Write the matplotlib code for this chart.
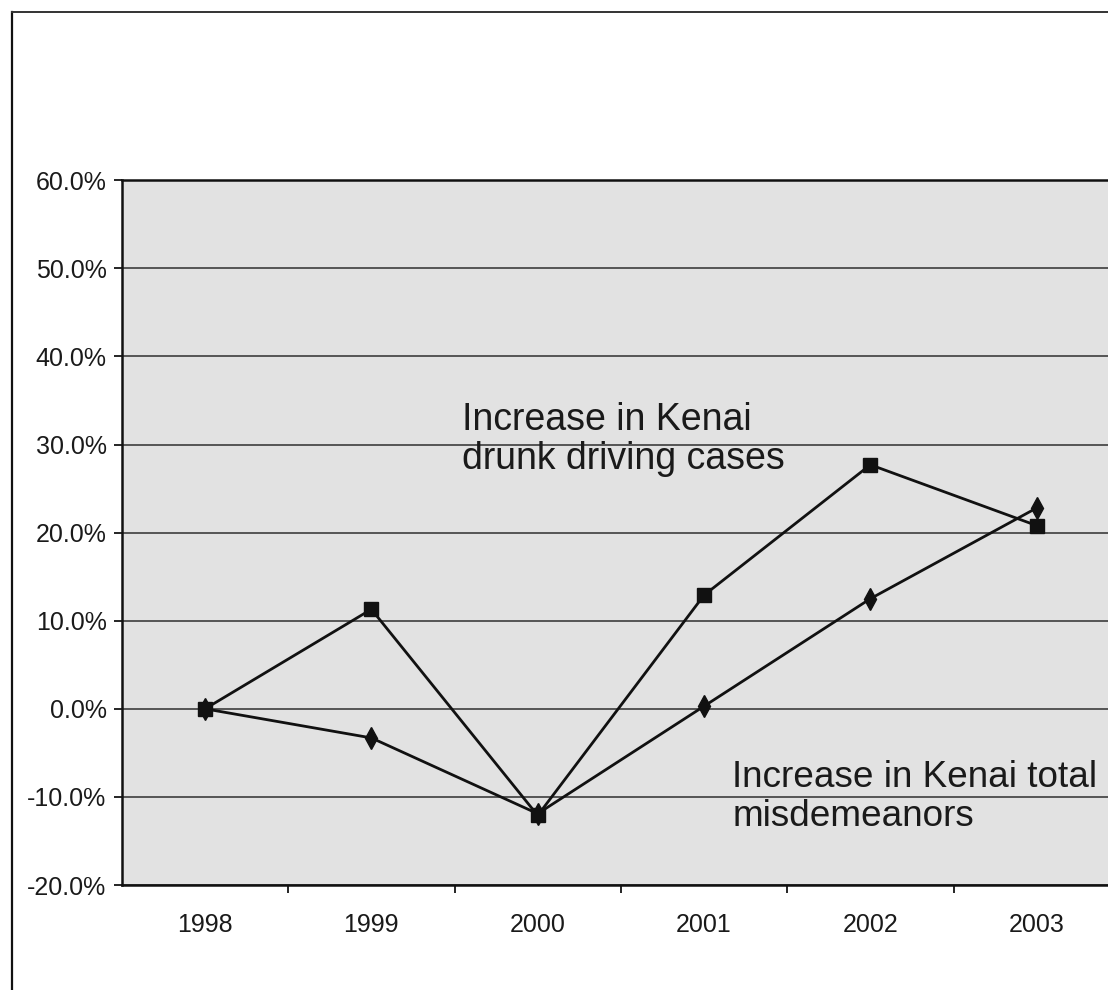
import matplotlib
matplotlib.use("Agg")
import matplotlib.pyplot as plt
from matplotlib.lines import Line2D
from matplotlib.ticker import FuncFormatter, MultipleLocator

years = ["1998", "1999", "2000", "2001", "2002", "2003"]
dui_cases = [0.0, 11.3, -12.1, 12.9, 27.7, 20.8]
misdemeanors = [0.0, -3.3, -11.9, 0.3, 12.5, 22.8]

plt.rcParams["font.family"] = ["Liberation Sans", "DejaVu Sans"]

fig = plt.figure(figsize=(11.08, 9.9), dpi=100)
ax = fig.add_axes([0.110, 0.106, 0.9007, 0.712])
ax.set_facecolor("#e2e2e2")

x = list(range(len(years)))
ax.plot(x, dui_cases, color="#111111", lw=2.0, marker="s", ms=10, zorder=3)
ax.plot(x, misdemeanors, color="#111111", lw=2.0, marker="d", ms=11, zorder=3)

ax.set_xlim(-0.5, len(years) - 0.5)
ax.set_ylim(-20, 60)
ax.yaxis.set_major_locator(MultipleLocator(10))
ax.yaxis.set_major_formatter(FuncFormatter(lambda v, p: f"{v:.1f}%"))
ax.grid(axis="y", color="#4a4a4a", lw=1.3)
ax.set_axisbelow(True)

ax.set_xticks(x)
ax.set_xticklabels(years)
ax.set_xticks([i + 0.5 for i in range(len(years) - 1)], minor=True)
ax.tick_params(axis="x", which="major", length=0, pad=20, labelsize=18, labelcolor="#1a1a1a")
ax.tick_params(axis="x", which="minor", length=6, width=1.2, direction="out")
ax.tick_params(axis="y", length=6, width=1.2, labelsize=18, pad=5, labelcolor="#1a1a1a")

ax.spines["right"].set_visible(False)
for side in ["left", "bottom", "top"]:
    ax.spines[side].set_linewidth(1.8)
    ax.spines[side].set_color("#111111")

ax.text(1.545, 30.6, "Increase in Kenai\ndrunk driving cases", fontsize=27,
        color="#1a1a1a", va="center", ha="left", linespacing=1.12)
ax.text(3.17, -10.0, "Increase in Kenai total\nmisdemeanors", fontsize=26.6,
        color="#1a1a1a", va="center", ha="left", linespacing=1.18)

# outer frame of the page
fig.add_artist(Line2D([12 / 1108, 12 / 1108], [0, 1 - 12 / 990], transform=fig.transFigure,
                      color="#111111", lw=1.6))
fig.add_artist(Line2D([12 / 1108, 1], [1 - 12 / 990, 1 - 12 / 990], transform=fig.transFigure,
                      color="#333333", lw=1.4))

fig.savefig("out.png", dpi=100)
